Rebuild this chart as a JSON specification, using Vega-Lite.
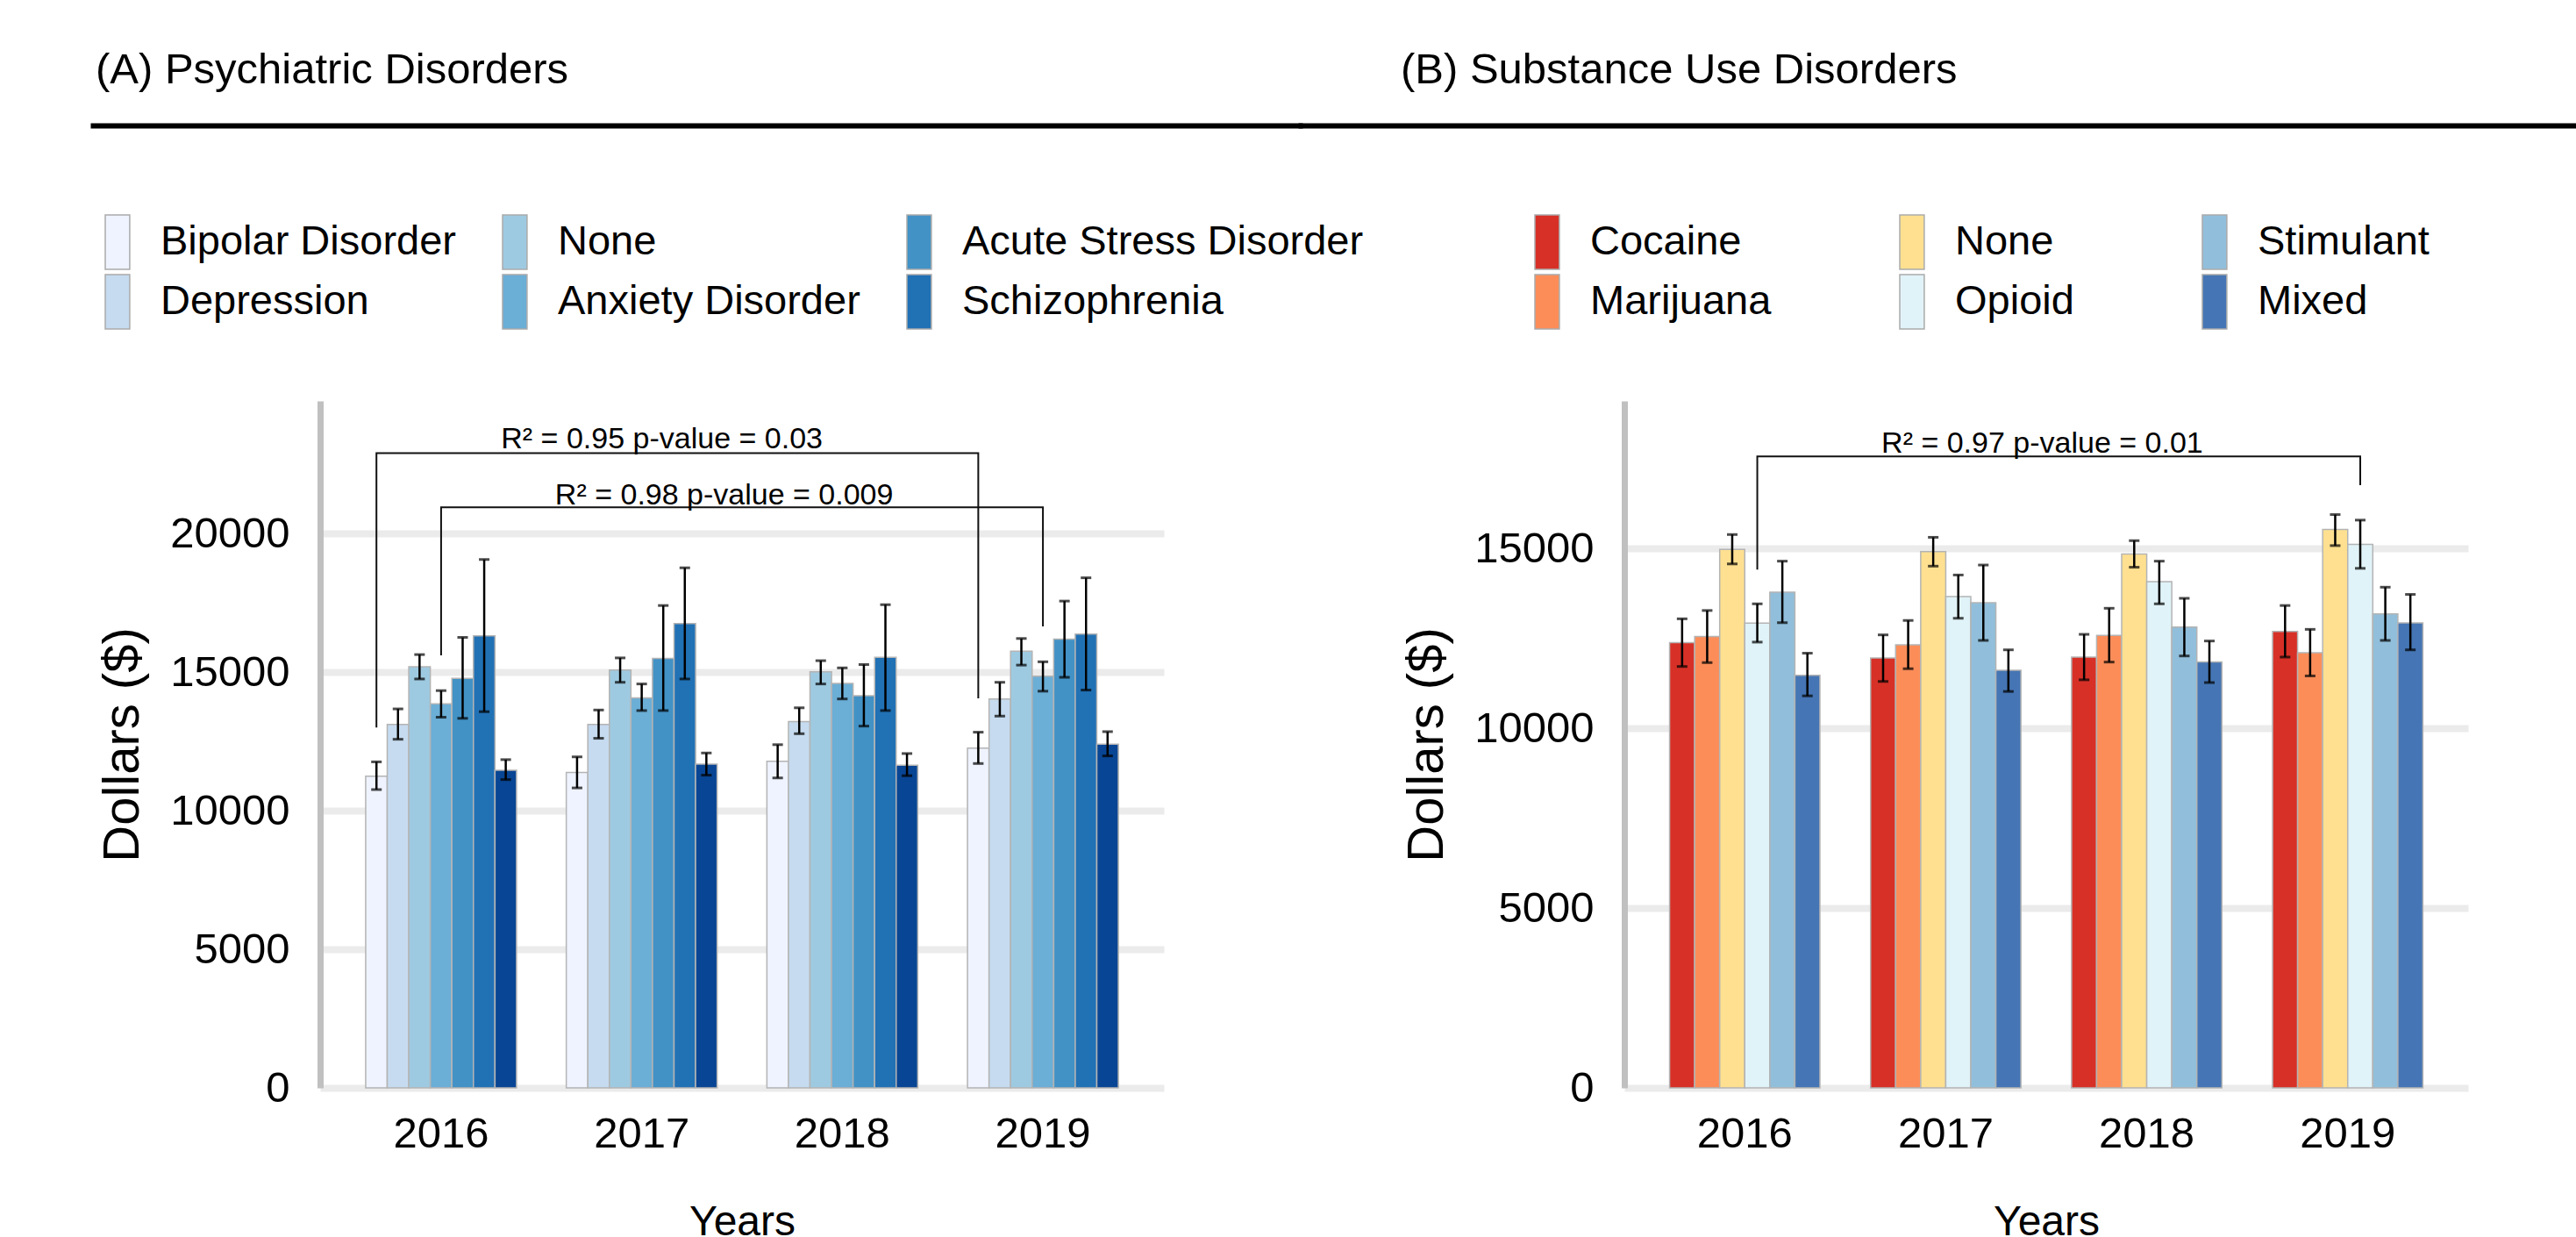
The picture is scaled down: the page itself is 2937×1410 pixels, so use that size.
{
  "$schema": "https://vega.github.io/schema/vega-lite/v6.json",
  "padding": {"left": 103, "top": 53, "right": 0, "bottom": 0},
  "background": "white",
  "config": {
    "font": "Liberation Sans, Arial, sans-serif",
    "view": {"stroke": null},
    "axisX": {"domain": false, "ticks": false, "tickSize": 0, "grid": false, "labelAngle": 0, "labelFontSize": 49, "labelColor": "black", "labelPadding": 28, "titleFontSize": 48, "titleFontWeight": "normal", "titleColor": "black", "titlePadding": 52},
    "axisY": {"domainColor": "#c0c0c0", "domainWidth": 7, "ticks": false, "tickSize": 0, "labelFontSize": 49, "labelColor": "black", "labelPadding": 35, "gridColor": "#ebebeb", "gridWidth": 8, "titleFontSize": 58, "titleFontWeight": "normal", "titleColor": "black", "titlePadding": 24},
    "legend": {"orient": "none", "title": null, "labelFontSize": 47, "labelColor": "black", "labelLimit": 1000, "labelOffset": 0, "rowPadding": 0, "padding": 12, "symbolType": "M-1,-1H-0.1V1H-1Z", "symbolSize": 3844, "symbolStrokeColor": "#aaaaaa", "symbolStrokeWidth": 1.5, "symbolOpacity": 1, "columns": 3}
  },
  "datasets": {
    "psych": [
      {"year": "2016", "cat": "Bipolar Disorder", "value": 11240, "lo": 10760, "hi": 11760},
      {"year": "2016", "cat": "Depression", "value": 13110, "lo": 12575, "hi": 13670},
      {"year": "2016", "cat": "None", "value": 15190, "lo": 14750, "hi": 15630},
      {"year": "2016", "cat": "Anxiety Disorder", "value": 13850, "lo": 13370, "hi": 14330},
      {"year": "2016", "cat": "Acute Stress Disorder", "value": 14770, "lo": 13330, "hi": 16250},
      {"year": "2016", "cat": "Schizophrenia", "value": 16310, "lo": 13570, "hi": 19060},
      {"year": "2016", "cat": "Other", "value": 11460, "lo": 11120, "hi": 11840},
      {"year": "2017", "cat": "Bipolar Disorder", "value": 11380, "lo": 10820, "hi": 11940},
      {"year": "2017", "cat": "Depression", "value": 13110, "lo": 12610, "hi": 13630},
      {"year": "2017", "cat": "None", "value": 15070, "lo": 14630, "hi": 15510},
      {"year": "2017", "cat": "Anxiety Disorder", "value": 14070, "lo": 13610, "hi": 14570},
      {"year": "2017", "cat": "Acute Stress Disorder", "value": 15490, "lo": 13610, "hi": 17400},
      {"year": "2017", "cat": "Schizophrenia", "value": 16750, "lo": 14750, "hi": 18760},
      {"year": "2017", "cat": "Other", "value": 11680, "lo": 11280, "hi": 12080},
      {"year": "2018", "cat": "Bipolar Disorder", "value": 11780, "lo": 11180, "hi": 12380},
      {"year": "2018", "cat": "Depression", "value": 13210, "lo": 12775, "hi": 13710},
      {"year": "2018", "cat": "None", "value": 15010, "lo": 14570, "hi": 15410},
      {"year": "2018", "cat": "Anxiety Disorder", "value": 14590, "lo": 14030, "hi": 15150},
      {"year": "2018", "cat": "Acute Stress Disorder", "value": 14150, "lo": 13050, "hi": 15270},
      {"year": "2018", "cat": "Schizophrenia", "value": 15530, "lo": 13610, "hi": 17430},
      {"year": "2018", "cat": "Other", "value": 11640, "lo": 11260, "hi": 12060},
      {"year": "2019", "cat": "Bipolar Disorder", "value": 12255, "lo": 11700, "hi": 12830},
      {"year": "2019", "cat": "Depression", "value": 14030, "lo": 13410, "hi": 14630},
      {"year": "2019", "cat": "None", "value": 15750, "lo": 15250, "hi": 16210},
      {"year": "2019", "cat": "Anxiety Disorder", "value": 14850, "lo": 14310, "hi": 15370},
      {"year": "2019", "cat": "Acute Stress Disorder", "value": 16190, "lo": 14810, "hi": 17560},
      {"year": "2019", "cat": "Schizophrenia", "value": 16370, "lo": 14350, "hi": 18400},
      {"year": "2019", "cat": "Other", "value": 12395, "lo": 11975, "hi": 12850}
    ],
    "subst": [
      {"year": "2016", "cat": "Cocaine", "value": 12380, "lo": 11716, "hi": 13042},
      {"year": "2016", "cat": "Marijuana", "value": 12550, "lo": 11824, "hi": 13273},
      {"year": "2016", "cat": "None", "value": 14970, "lo": 14568, "hi": 15385},
      {"year": "2016", "cat": "Opioid", "value": 12920, "lo": 12394, "hi": 13458},
      {"year": "2016", "cat": "Stimulant", "value": 13780, "lo": 12934, "hi": 14645},
      {"year": "2016", "cat": "Mixed", "value": 11470, "lo": 10899, "hi": 12086},
      {"year": "2017", "cat": "Cocaine", "value": 11950, "lo": 11300, "hi": 12595},
      {"year": "2017", "cat": "Marijuana", "value": 12320, "lo": 11654, "hi": 12996},
      {"year": "2017", "cat": "None", "value": 14910, "lo": 14506, "hi": 15308},
      {"year": "2017", "cat": "Opioid", "value": 13660, "lo": 13057, "hi": 14260},
      {"year": "2017", "cat": "Stimulant", "value": 13490, "lo": 12441, "hi": 14537},
      {"year": "2017", "cat": "Mixed", "value": 11610, "lo": 11022, "hi": 12179},
      {"year": "2018", "cat": "Cocaine", "value": 11980, "lo": 11346, "hi": 12610},
      {"year": "2018", "cat": "Marijuana", "value": 12580, "lo": 11839, "hi": 13335},
      {"year": "2018", "cat": "None", "value": 14845, "lo": 14476, "hi": 15215},
      {"year": "2018", "cat": "Opioid", "value": 14075, "lo": 13458, "hi": 14645},
      {"year": "2018", "cat": "Stimulant", "value": 12810, "lo": 12009, "hi": 13612},
      {"year": "2018", "cat": "Mixed", "value": 11840, "lo": 11269, "hi": 12425},
      {"year": "2019", "cat": "Cocaine", "value": 12690, "lo": 11978, "hi": 13412},
      {"year": "2019", "cat": "Marijuana", "value": 12100, "lo": 11454, "hi": 12749},
      {"year": "2019", "cat": "None", "value": 15524, "lo": 15077, "hi": 15940},
      {"year": "2019", "cat": "Opioid", "value": 15110, "lo": 14445, "hi": 15786},
      {"year": "2019", "cat": "Stimulant", "value": 13180, "lo": 12441, "hi": 13921},
      {"year": "2019", "cat": "Mixed", "value": 12930, "lo": 12179, "hi": 13720}
    ],
    "psychBrackets": [
      {"id": "a", "seq": 1, "year": "2016", "cat": "Bipolar Disorder", "value": 13000},
      {"id": "a", "seq": 2, "year": "2016", "cat": "Bipolar Disorder", "value": 22900},
      {"id": "a", "seq": 3, "year": "2019", "cat": "Bipolar Disorder", "value": 22900},
      {"id": "a", "seq": 4, "year": "2019", "cat": "Bipolar Disorder", "value": 14050},
      {"id": "b", "seq": 1, "year": "2016", "cat": "Anxiety Disorder", "value": 15600},
      {"id": "b", "seq": 2, "year": "2016", "cat": "Anxiety Disorder", "value": 20940},
      {"id": "b", "seq": 3, "year": "2019", "cat": "Anxiety Disorder", "value": 20940},
      {"id": "b", "seq": 4, "year": "2019", "cat": "Anxiety Disorder", "value": 16650}
    ],
    "substBrackets": [
      {"id": "c", "seq": 1, "year": "2016", "cat": "Opioid", "value": 14410},
      {"id": "c", "seq": 2, "year": "2016", "cat": "Opioid", "value": 17560},
      {"id": "c", "seq": 3, "year": "2019", "cat": "Opioid", "value": 17560},
      {"id": "c", "seq": 4, "year": "2019", "cat": "Opioid", "value": 16760}
    ],
    "psychNotes": [
      {"id": "a", "year": "2017", "value": 22900, "label": "R² = 0.95 p-value = 0.03"},
      {"id": "b", "year": "2017", "value": 20940, "label": "R² = 0.98 p-value = 0.009"}
    ],
    "substNotes": [
      {"id": "c", "year": "2017", "value": 17560, "label": "R² = 0.97 p-value = 0.01"}
    ]
  },
  "concat": [
    {
      "hconcat": [
        {
          "width": 1377, "height": 1,
          "data": {"values": [{}]},
          "mark": {"type": "text", "text": ""},
          "view": {"stroke": "black", "strokeWidth": 5},
          "title": {"text": "(A) Psychiatric Disorders", "anchor": "start", "frame": "group", "fontSize": 49, "fontWeight": "normal", "color": "black", "offset": 33, "dx": 3}
        },
        {
          "width": 1465, "height": 1,
          "data": {"values": [{}]},
          "mark": {"type": "text", "text": ""},
          "view": {"stroke": "black", "strokeWidth": 5},
          "title": {"text": "(B) Substance Use Disorders", "anchor": "start", "frame": "group", "fontSize": 49, "fontWeight": "normal", "color": "black", "offset": 33, "dx": 114}
        }
      ],
      "spacing": 0,
      "bounds": "flush"
    },
    {
      "hconcat": [
        {
          "width": 1, "height": 1,
          "data": {"values": [{}]},
          "mark": {"type": "text", "text": ""}
        },
        {
          "hconcat": [
            {
              "width": 962, "height": 783,
              "layer": [
                {
                  "data": {"name": "psych"},
                  "mark": {"type": "bar", "stroke": "#b4b4b4", "strokeWidth": 1.5},
                  "encoding": {
                    "x": {"field": "year", "type": "nominal", "title": "Years", "scale": {"paddingInner": 0.248, "paddingOuter": 0.227}},
                    "xOffset": {"field": "cat", "type": "nominal", "scale": {"domain": ["Bipolar Disorder", "Depression", "None", "Anxiety Disorder", "Acute Stress Disorder", "Schizophrenia", "Other"], "paddingInner": 0, "paddingOuter": 0}},
                    "y": {"field": "value", "type": "quantitative", "title": "Dollars ($)", "scale": {"domain": [0, 24780], "nice": false}, "axis": {"values": [0, 5000, 10000, 15000, 20000], "format": "d"}},
                    "color": {"field": "cat", "type": "nominal", "scale": {"domain": ["Bipolar Disorder", "Depression", "None", "Anxiety Disorder", "Acute Stress Disorder", "Schizophrenia", "Other"], "range": ["#eff3ff", "#c6dbef", "#9ecae1", "#6baed6", "#4292c6", "#2171b5", "#084594"]},
                      "legend": {"values": ["Bipolar Disorder", "Depression", "None", "Anxiety Disorder", "Acute Stress Disorder", "Schizophrenia"], "legendX": -258, "legendY": -225, "columnPadding": 50}}
                  }
                },
                {
                  "data": {"name": "psych"},
                  "mark": {"type": "rule", "color": "black", "strokeWidth": 2.5},
                  "encoding": {
                    "x": {"field": "year", "type": "nominal", "title": "Years"},
                    "xOffset": {"field": "cat", "type": "nominal"},
                    "y": {"field": "lo", "type": "quantitative", "title": "Dollars ($)"},
                    "y2": {"field": "hi"}
                  }
                },
                {
                  "data": {"name": "psych"},
                  "mark": {"type": "tick", "color": "black", "size": 12, "thickness": 3},
                  "encoding": {
                    "x": {"field": "year", "type": "nominal", "title": "Years"},
                    "xOffset": {"field": "cat", "type": "nominal"},
                    "y": {"field": "lo", "type": "quantitative", "title": "Dollars ($)"}
                  }
                },
                {
                  "data": {"name": "psych"},
                  "mark": {"type": "tick", "color": "black", "size": 12, "thickness": 3},
                  "encoding": {
                    "x": {"field": "year", "type": "nominal", "title": "Years"},
                    "xOffset": {"field": "cat", "type": "nominal"},
                    "y": {"field": "hi", "type": "quantitative", "title": "Dollars ($)"}
                  }
                },
                {
                  "data": {"name": "psychBrackets"},
                  "mark": {"type": "line", "color": "#111111", "strokeWidth": 2},
                  "encoding": {
                    "x": {"field": "year", "type": "nominal", "title": "Years"},
                    "xOffset": {"field": "cat", "type": "nominal"},
                    "y": {"field": "value", "type": "quantitative", "title": "Dollars ($)"},
                    "detail": {"field": "id"},
                    "order": {"field": "seq"}
                  }
                },
                {
                  "data": {"name": "psychNotes"},
                  "transform": [{"filter": "datum.id == 'a'"}],
                  "mark": {"type": "text", "fontSize": 34, "color": "black", "baseline": "alphabetic", "align": "center", "dx": 23, "dy": -5},
                  "encoding": {
                    "x": {"field": "year", "type": "nominal", "title": "Years"},
                    "y": {"field": "value", "type": "quantitative", "title": "Dollars ($)"},
                    "text": {"field": "label"}
                  }
                },
                {
                  "data": {"name": "psychNotes"},
                  "transform": [{"filter": "datum.id == 'b'"}],
                  "mark": {"type": "text", "fontSize": 34, "color": "black", "baseline": "alphabetic", "align": "center", "dx": 94, "dy": -3},
                  "encoding": {
                    "x": {"field": "year", "type": "nominal", "title": "Years"},
                    "y": {"field": "value", "type": "quantitative", "title": "Dollars ($)"},
                    "text": {"field": "label"}
                  }
                }
              ]
            },
            {
              "width": 962, "height": 783,
              "layer": [
                {
                  "data": {"name": "subst"},
                  "mark": {"type": "bar", "stroke": "#b4b4b4", "strokeWidth": 1.5},
                  "encoding": {
                    "x": {"field": "year", "type": "nominal", "title": "Years", "scale": {"paddingInner": 0.252, "paddingOuter": 0.225}},
                    "xOffset": {"field": "cat", "type": "nominal", "scale": {"domain": ["Cocaine", "Marijuana", "None", "Opioid", "Stimulant", "Mixed"], "paddingInner": 0, "paddingOuter": 0}},
                    "y": {"field": "value", "type": "quantitative", "title": "Dollars ($)", "scale": {"domain": [0, 19100], "nice": false}, "axis": {"values": [0, 5000, 10000, 15000], "format": "d"}},
                    "color": {"field": "cat", "type": "nominal", "scale": {"domain": ["Cocaine", "Marijuana", "None", "Opioid", "Stimulant", "Mixed"], "range": ["#d73027", "#fc8d59", "#fee090", "#e0f3f8", "#91bfdb", "#4575b4"]},
                      "legend": {"values": ["Cocaine", "Marijuana", "None", "Opioid", "Stimulant", "Mixed"], "legendX": -115, "legendY": -225, "columnPadding": 143}}
                  }
                },
                {
                  "data": {"name": "subst"},
                  "mark": {"type": "rule", "color": "black", "strokeWidth": 2.5},
                  "encoding": {
                    "x": {"field": "year", "type": "nominal", "title": "Years"},
                    "xOffset": {"field": "cat", "type": "nominal"},
                    "y": {"field": "lo", "type": "quantitative", "title": "Dollars ($)"},
                    "y2": {"field": "hi"}
                  }
                },
                {
                  "data": {"name": "subst"},
                  "mark": {"type": "tick", "color": "black", "size": 12, "thickness": 3},
                  "encoding": {
                    "x": {"field": "year", "type": "nominal", "title": "Years"},
                    "xOffset": {"field": "cat", "type": "nominal"},
                    "y": {"field": "lo", "type": "quantitative", "title": "Dollars ($)"}
                  }
                },
                {
                  "data": {"name": "subst"},
                  "mark": {"type": "tick", "color": "black", "size": 12, "thickness": 3},
                  "encoding": {
                    "x": {"field": "year", "type": "nominal", "title": "Years"},
                    "xOffset": {"field": "cat", "type": "nominal"},
                    "y": {"field": "hi", "type": "quantitative", "title": "Dollars ($)"}
                  }
                },
                {
                  "data": {"name": "substBrackets"},
                  "mark": {"type": "line", "color": "#111111", "strokeWidth": 2},
                  "encoding": {
                    "x": {"field": "year", "type": "nominal", "title": "Years"},
                    "xOffset": {"field": "cat", "type": "nominal"},
                    "y": {"field": "value", "type": "quantitative", "title": "Dollars ($)"},
                    "detail": {"field": "id"},
                    "order": {"field": "seq"}
                  }
                },
                {
                  "data": {"name": "substNotes"},
                  "mark": {"type": "text", "fontSize": 34, "color": "black", "baseline": "alphabetic", "align": "center", "dx": 110, "dy": -4},
                  "encoding": {
                    "x": {"field": "year", "type": "nominal", "title": "Years"},
                    "y": {"field": "value", "type": "quantitative", "title": "Dollars ($)"},
                    "text": {"field": "label"}
                  }
                }
              ]
            }
          ],
          "spacing": 31,
          "resolve": {"scale": {"x": "independent", "y": "independent", "color": "independent", "xOffset": "independent"}}
        }
      ],
      "spacing": 0
    }
  ],
  "columns": 1,
  "spacing": 81
}
